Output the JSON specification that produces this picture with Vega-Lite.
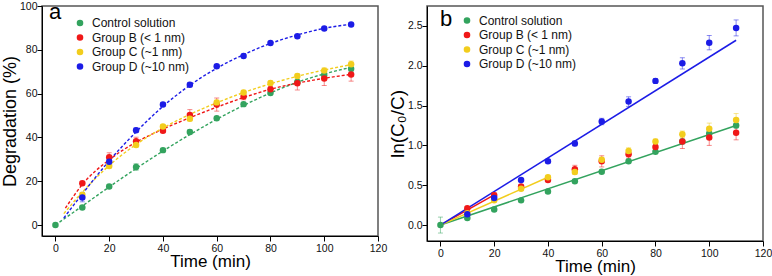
{
  "$schema": "https://vega.github.io/schema/vega-lite/v6.json",
  "padding": {"left": 0, "top": 0, "right": 2, "bottom": 0},
  "background": "white",
  "bounds": "flush",
  "spacing": 49,
  "config": {
    "font": "Liberation Sans",
    "view": {"stroke": "#555", "strokeWidth": 1.5},
    "axis": {"grid": false, "domainColor": "#000", "domainWidth": 1, "tickColor": "#000", "labelColor": "#111", "labelFont": "Liberation Sans", "labelFontSize": 10.5, "labelPadding": 1, "titleFont": "Liberation Sans", "titleFontWeight": "normal", "titleColor": "#000", "labelFlush": false, "labelOverlap": false},
    "legend": {"labelFont": "Liberation Sans", "labelFontSize": 12, "labelColor": "#111", "symbolSize": 26, "symbolType": "circle", "symbolOpacity": 1, "rowPadding": 2.5, "labelOffset": 6}
  },
  "resolve": {"scale": {"color": "independent"}},
  "datasets": {
    "pa": [
      {"g": "Control solution", "t": 0, "v": 0, "e": 0.5},
      {"g": "Control solution", "t": 10, "v": 8, "e": 0.8},
      {"g": "Control solution", "t": 20, "v": 17.6, "e": 0.8},
      {"g": "Control solution", "t": 30, "v": 26.5, "e": 1.5},
      {"g": "Control solution", "t": 40, "v": 34.2, "e": 0.8},
      {"g": "Control solution", "t": 50, "v": 42.5, "e": 1},
      {"g": "Control solution", "t": 60, "v": 48.8, "e": 0.8},
      {"g": "Control solution", "t": 70, "v": 55.2, "e": 0.8},
      {"g": "Control solution", "t": 80, "v": 60.3, "e": 0.8},
      {"g": "Control solution", "t": 90, "v": 65.3, "e": 1},
      {"g": "Control solution", "t": 100, "v": 68.5, "e": 1.2},
      {"g": "Control solution", "t": 110, "v": 71.3, "e": 1.3},
      {"g": "Group B (< 1 nm)", "t": 10, "v": 19.1, "e": 0.8},
      {"g": "Group B (< 1 nm)", "t": 20, "v": 31, "e": 2},
      {"g": "Group B (< 1 nm)", "t": 30, "v": 38.3, "e": 1.8},
      {"g": "Group B (< 1 nm)", "t": 40, "v": 43, "e": 0.8},
      {"g": "Group B (< 1 nm)", "t": 50, "v": 50.2, "e": 2.5},
      {"g": "Group B (< 1 nm)", "t": 60, "v": 55, "e": 3},
      {"g": "Group B (< 1 nm)", "t": 70, "v": 58.7, "e": 1.5},
      {"g": "Group B (< 1 nm)", "t": 80, "v": 62, "e": 1.2},
      {"g": "Group B (< 1 nm)", "t": 90, "v": 64.7, "e": 3},
      {"g": "Group B (< 1 nm)", "t": 100, "v": 66.9, "e": 3.2},
      {"g": "Group B (< 1 nm)", "t": 110, "v": 68.7, "e": 3},
      {"g": "Group C (~1 nm)", "t": 10, "v": 13.8, "e": 1},
      {"g": "Group C (~1 nm)", "t": 20, "v": 27, "e": 1},
      {"g": "Group C (~1 nm)", "t": 30, "v": 36.5, "e": 1},
      {"g": "Group C (~1 nm)", "t": 40, "v": 45, "e": 0.8},
      {"g": "Group C (~1 nm)", "t": 50, "v": 48.5, "e": 1},
      {"g": "Group C (~1 nm)", "t": 60, "v": 56, "e": 1},
      {"g": "Group C (~1 nm)", "t": 70, "v": 60.5, "e": 1},
      {"g": "Group C (~1 nm)", "t": 80, "v": 64.8, "e": 1},
      {"g": "Group C (~1 nm)", "t": 90, "v": 68, "e": 1},
      {"g": "Group C (~1 nm)", "t": 100, "v": 70.5, "e": 1.3},
      {"g": "Group C (~1 nm)", "t": 110, "v": 73.4, "e": 1.5},
      {"g": "Group D (~10 nm)", "t": 10, "v": 12.6, "e": 2},
      {"g": "Group D (~10 nm)", "t": 20, "v": 28.9, "e": 1.2},
      {"g": "Group D (~10 nm)", "t": 30, "v": 43.3, "e": 1},
      {"g": "Group D (~10 nm)", "t": 40, "v": 55, "e": 0.8},
      {"g": "Group D (~10 nm)", "t": 50, "v": 64.1, "e": 1},
      {"g": "Group D (~10 nm)", "t": 60, "v": 72.5, "e": 0.8},
      {"g": "Group D (~10 nm)", "t": 70, "v": 77.2, "e": 0.8},
      {"g": "Group D (~10 nm)", "t": 80, "v": 83.1, "e": 0.5},
      {"g": "Group D (~10 nm)", "t": 90, "v": 86.2, "e": 0.8},
      {"g": "Group D (~10 nm)", "t": 100, "v": 89.7, "e": 0.5},
      {"g": "Group D (~10 nm)", "t": 110, "v": 91.6, "e": 0.5}
    ],
    "pac": [
      {"g": "Control solution", "t": 0, "v": 0},
      {"g": "Control solution", "t": 10, "v": 8.7},
      {"g": "Control solution", "t": 20, "v": 17.4},
      {"g": "Control solution", "t": 30, "v": 25.8},
      {"g": "Control solution", "t": 40, "v": 33.8},
      {"g": "Control solution", "t": 50, "v": 41.3},
      {"g": "Control solution", "t": 60, "v": 48.3},
      {"g": "Control solution", "t": 70, "v": 54.6},
      {"g": "Control solution", "t": 80, "v": 60.3},
      {"g": "Control solution", "t": 90, "v": 65.2},
      {"g": "Control solution", "t": 100, "v": 69},
      {"g": "Control solution", "t": 110, "v": 72},
      {"g": "Group B (< 1 nm)", "t": 3.7, "v": 7.7},
      {"g": "Group B (< 1 nm)", "t": 10, "v": 18.5},
      {"g": "Group B (< 1 nm)", "t": 20, "v": 29.8},
      {"g": "Group B (< 1 nm)", "t": 30, "v": 37.8},
      {"g": "Group B (< 1 nm)", "t": 40, "v": 43.8},
      {"g": "Group B (< 1 nm)", "t": 50, "v": 49},
      {"g": "Group B (< 1 nm)", "t": 60, "v": 53.8},
      {"g": "Group B (< 1 nm)", "t": 70, "v": 58.2},
      {"g": "Group B (< 1 nm)", "t": 80, "v": 62},
      {"g": "Group B (< 1 nm)", "t": 90, "v": 64.8},
      {"g": "Group B (< 1 nm)", "t": 100, "v": 67},
      {"g": "Group B (< 1 nm)", "t": 110, "v": 68.8},
      {"g": "Group C (~1 nm)", "t": 3.1, "v": 5.2},
      {"g": "Group C (~1 nm)", "t": 10, "v": 15},
      {"g": "Group C (~1 nm)", "t": 20, "v": 27.2},
      {"g": "Group C (~1 nm)", "t": 30, "v": 36.8},
      {"g": "Group C (~1 nm)", "t": 40, "v": 44.3},
      {"g": "Group C (~1 nm)", "t": 50, "v": 50.5},
      {"g": "Group C (~1 nm)", "t": 60, "v": 55.8},
      {"g": "Group C (~1 nm)", "t": 70, "v": 60.5},
      {"g": "Group C (~1 nm)", "t": 80, "v": 64.5},
      {"g": "Group C (~1 nm)", "t": 90, "v": 67.9},
      {"g": "Group C (~1 nm)", "t": 100, "v": 70.8},
      {"g": "Group C (~1 nm)", "t": 110, "v": 73.2},
      {"g": "Group D (~10 nm)", "t": 3.1, "v": 3.2},
      {"g": "Group D (~10 nm)", "t": 10, "v": 14.2},
      {"g": "Group D (~10 nm)", "t": 20, "v": 29.3},
      {"g": "Group D (~10 nm)", "t": 30, "v": 42.5},
      {"g": "Group D (~10 nm)", "t": 40, "v": 54.2},
      {"g": "Group D (~10 nm)", "t": 50, "v": 63.8},
      {"g": "Group D (~10 nm)", "t": 60, "v": 71.6},
      {"g": "Group D (~10 nm)", "t": 70, "v": 77.8},
      {"g": "Group D (~10 nm)", "t": 80, "v": 82.9},
      {"g": "Group D (~10 nm)", "t": 90, "v": 86.8},
      {"g": "Group D (~10 nm)", "t": 100, "v": 89.8},
      {"g": "Group D (~10 nm)", "t": 110, "v": 91.7}
    ],
    "pb": [
      {"g": "Control solution", "t": 0, "v": 0, "e": 0.1},
      {"g": "Control solution", "t": 10, "v": 0.088, "e": 0.02},
      {"g": "Control solution", "t": 20, "v": 0.196, "e": 0.02},
      {"g": "Control solution", "t": 30, "v": 0.31, "e": 0.02},
      {"g": "Control solution", "t": 40, "v": 0.42, "e": 0.02},
      {"g": "Control solution", "t": 50, "v": 0.55, "e": 0.02},
      {"g": "Control solution", "t": 60, "v": 0.67, "e": 0.02},
      {"g": "Control solution", "t": 70, "v": 0.8, "e": 0.02},
      {"g": "Control solution", "t": 80, "v": 0.92, "e": 0.02},
      {"g": "Control solution", "t": 90, "v": 1.05, "e": 0.03},
      {"g": "Control solution", "t": 100, "v": 1.15, "e": 0.04},
      {"g": "Control solution", "t": 110, "v": 1.25, "e": 0.03},
      {"g": "Group B (< 1 nm)", "t": 10, "v": 0.21, "e": 0.02},
      {"g": "Group B (< 1 nm)", "t": 20, "v": 0.376, "e": 0.03},
      {"g": "Group B (< 1 nm)", "t": 30, "v": 0.485, "e": 0.02},
      {"g": "Group B (< 1 nm)", "t": 40, "v": 0.565, "e": 0.02},
      {"g": "Group B (< 1 nm)", "t": 50, "v": 0.7, "e": 0.05},
      {"g": "Group B (< 1 nm)", "t": 60, "v": 0.8, "e": 0.07},
      {"g": "Group B (< 1 nm)", "t": 70, "v": 0.89, "e": 0.05},
      {"g": "Group B (< 1 nm)", "t": 80, "v": 0.98, "e": 0.03},
      {"g": "Group B (< 1 nm)", "t": 90, "v": 1.05, "e": 0.09},
      {"g": "Group B (< 1 nm)", "t": 100, "v": 1.1, "e": 0.1},
      {"g": "Group B (< 1 nm)", "t": 110, "v": 1.16, "e": 0.09},
      {"g": "Group C (~1 nm)", "t": 10, "v": 0.15, "e": 0.02},
      {"g": "Group C (~1 nm)", "t": 20, "v": 0.31, "e": 0.02},
      {"g": "Group C (~1 nm)", "t": 30, "v": 0.455, "e": 0.02},
      {"g": "Group C (~1 nm)", "t": 40, "v": 0.6, "e": 0.02},
      {"g": "Group C (~1 nm)", "t": 50, "v": 0.665, "e": 0.03},
      {"g": "Group C (~1 nm)", "t": 60, "v": 0.82, "e": 0.03},
      {"g": "Group C (~1 nm)", "t": 70, "v": 0.93, "e": 0.04},
      {"g": "Group C (~1 nm)", "t": 80, "v": 1.05, "e": 0.03},
      {"g": "Group C (~1 nm)", "t": 90, "v": 1.14, "e": 0.04},
      {"g": "Group C (~1 nm)", "t": 100, "v": 1.21, "e": 0.07},
      {"g": "Group C (~1 nm)", "t": 110, "v": 1.32, "e": 0.08},
      {"g": "Group D (~10 nm)", "t": 10, "v": 0.135, "e": 0.03},
      {"g": "Group D (~10 nm)", "t": 20, "v": 0.34, "e": 0.02},
      {"g": "Group D (~10 nm)", "t": 30, "v": 0.565, "e": 0.02},
      {"g": "Group D (~10 nm)", "t": 40, "v": 0.8, "e": 0.02},
      {"g": "Group D (~10 nm)", "t": 50, "v": 1.025, "e": 0.03},
      {"g": "Group D (~10 nm)", "t": 60, "v": 1.3, "e": 0.04},
      {"g": "Group D (~10 nm)", "t": 70, "v": 1.55, "e": 0.06},
      {"g": "Group D (~10 nm)", "t": 80, "v": 1.81, "e": 0.03},
      {"g": "Group D (~10 nm)", "t": 90, "v": 2.03, "e": 0.07},
      {"g": "Group D (~10 nm)", "t": 100, "v": 2.29, "e": 0.09},
      {"g": "Group D (~10 nm)", "t": 110, "v": 2.475, "e": 0.1}
    ],
    "pbl": [
      {"g": "Control solution", "t": 0, "v": 0},
      {"g": "Control solution", "t": 110, "v": 1.25},
      {"g": "Group B (< 1 nm)", "t": 0, "v": 0},
      {"g": "Group B (< 1 nm)", "t": 20, "v": 0.38},
      {"g": "Group C (~1 nm)", "t": 0, "v": 0},
      {"g": "Group C (~1 nm)", "t": 40, "v": 0.6},
      {"g": "Group D (~10 nm)", "t": 0, "v": 0},
      {"g": "Group D (~10 nm)", "t": 110, "v": 2.32}
    ]
  },
  "hconcat": [
    {
      "width": 336,
      "height": 230,
      "title": {"text": "a", "anchor": "start", "frame": "group", "orient": "top", "offset": -23, "dx": 7, "fontSize": 22, "fontWeight": "normal", "color": "#000"},
      "layer": [
        {
          "data": {"name": "pac"},
          "mark": {"type": "line", "strokeDash": [3, 2], "strokeWidth": 1.4, "interpolate": "monotone"},
          "encoding": {
            "x": {"field": "t", "type": "quantitative", "title": "Time (min)", "scale": {"domain": [-5, 120], "nice": false, "zero": false},
              "axis": {"titleFontSize": 17, "titlePadding": 0, "labelPadding": 2, "tickSize": {"condition": {"test": "datum.value % 20 === 0", "value": 5}, "value": 3}, "values": [0, 10, 20, 30, 40, 50, 60, 70, 80, 90, 100, 110, 120],
                "labelExpr": "datum.value % 20 === 0 ? datum.label : ''"}},
            "y": {"field": "v", "type": "quantitative", "title": "Degradation (%)", "scale": {"domain": [-5, 100], "nice": false, "zero": false},
              "axis": {"titleFontSize": 18, "titlePadding": 0, "titleX": -23, "labelPadding": 0, "values": [0, 10, 20, 30, 40, 50, 60, 70, 80, 90, 100],
                "labelExpr": "datum.value % 20 === 0 ? datum.label : ''",
                "tickSize": {"condition": {"test": "datum.value % 20 === 0", "value": 5}, "value": 3}}},
            "color": {"field": "g", "type": "nominal",
              "scale": {"domain": ["Control solution", "Group B (< 1 nm)", "Group C (~1 nm)", "Group D (~10 nm)"], "range": ["#33a35e", "#f01818", "#f2cd1d", "#1c1ce6"]},
              "legend": {"title": null, "orient": "none", "legendX": 32, "legendY": 11, "symbolOpacity": 1}}
          }
        },
        {
          "data": {"name": "pa"},
          "mark": {"type": "errorbar", "ticks": {"size": 5}, "opacity": 0.5, "thickness": 1},
          "encoding": {
            "x": {"field": "t", "type": "quantitative", "title": "Time (min)"},
            "y": {"field": "v", "type": "quantitative", "title": "Degradation (%)"},
            "yError": {"field": "e"},
            "color": {"field": "g", "type": "nominal"}
          }
        },
        {
          "data": {"name": "pa"},
          "mark": {"type": "point", "filled": true, "opacity": 1, "size": 42},
          "encoding": {
            "x": {"field": "t", "type": "quantitative", "title": "Time (min)"},
            "y": {"field": "v", "type": "quantitative", "title": "Degradation (%)"},
            "color": {"field": "g", "type": "nominal"}
          }
        }
      ]
    },
    {
      "width": 336,
      "height": 235,
      "title": {"text": "b", "anchor": "start", "frame": "group", "orient": "top", "offset": -25, "dx": 13, "fontSize": 22, "fontWeight": "normal", "color": "#000"},
      "layer": [
        {
          "data": {"name": "pbl"},
          "mark": {"type": "line", "strokeWidth": 1.5},
          "encoding": {
            "x": {"field": "t", "type": "quantitative", "title": "Time (min)", "scale": {"domain": [-5, 120], "nice": false, "zero": false},
              "axis": {"titleFontSize": 17, "titlePadding": 0, "labelPadding": 2, "values": [0, 10, 20, 30, 40, 50, 60, 70, 80, 90, 100, 110, 120],
                "labelExpr": "datum.value % 20 === 0 ? datum.label : ''",
                "tickSize": {"condition": {"test": "datum.value % 20 === 0", "value": 5}, "value": 3}}},
            "y": {"field": "v", "type": "quantitative", "title": "ln(C₀/C)", "scale": {"domain": [-0.2, 2.75], "nice": false, "zero": false},
              "axis": {"titleFontSize": 19, "titlePadding": 0, "titleX": -20, "labelPadding": 0, "values": [0, 0.25, 0.5, 0.75, 1, 1.25, 1.5, 1.75, 2, 2.25, 2.5],
                "labelExpr": "datum.value % 0.5 === 0 ? format(datum.value, '.1f') : ''",
                "tickSize": {"condition": {"test": "datum.value % 0.5 === 0", "value": 5}, "value": 3}}},
            "color": {"field": "g", "type": "nominal",
              "scale": {"domain": ["Control solution", "Group B (< 1 nm)", "Group C (~1 nm)", "Group D (~10 nm)"], "range": ["#33a35e", "#f01818", "#f2cd1d", "#1c1ce6"]},
              "legend": {"title": null, "orient": "none", "legendX": 34, "legendY": 8.5, "symbolOpacity": 1}}
          }
        },
        {
          "data": {"name": "pb"},
          "mark": {"type": "errorbar", "ticks": {"size": 5}, "opacity": 0.5, "thickness": 1},
          "encoding": {
            "x": {"field": "t", "type": "quantitative", "title": "Time (min)"},
            "y": {"field": "v", "type": "quantitative", "title": "ln(C₀/C)"},
            "yError": {"field": "e"},
            "color": {"field": "g", "type": "nominal"}
          }
        },
        {
          "data": {"name": "pb"},
          "mark": {"type": "point", "filled": true, "opacity": 1, "size": 42},
          "encoding": {
            "x": {"field": "t", "type": "quantitative", "title": "Time (min)"},
            "y": {"field": "v", "type": "quantitative", "title": "ln(C₀/C)"},
            "color": {"field": "g", "type": "nominal"}
          }
        }
      ]
    }
  ]
}
